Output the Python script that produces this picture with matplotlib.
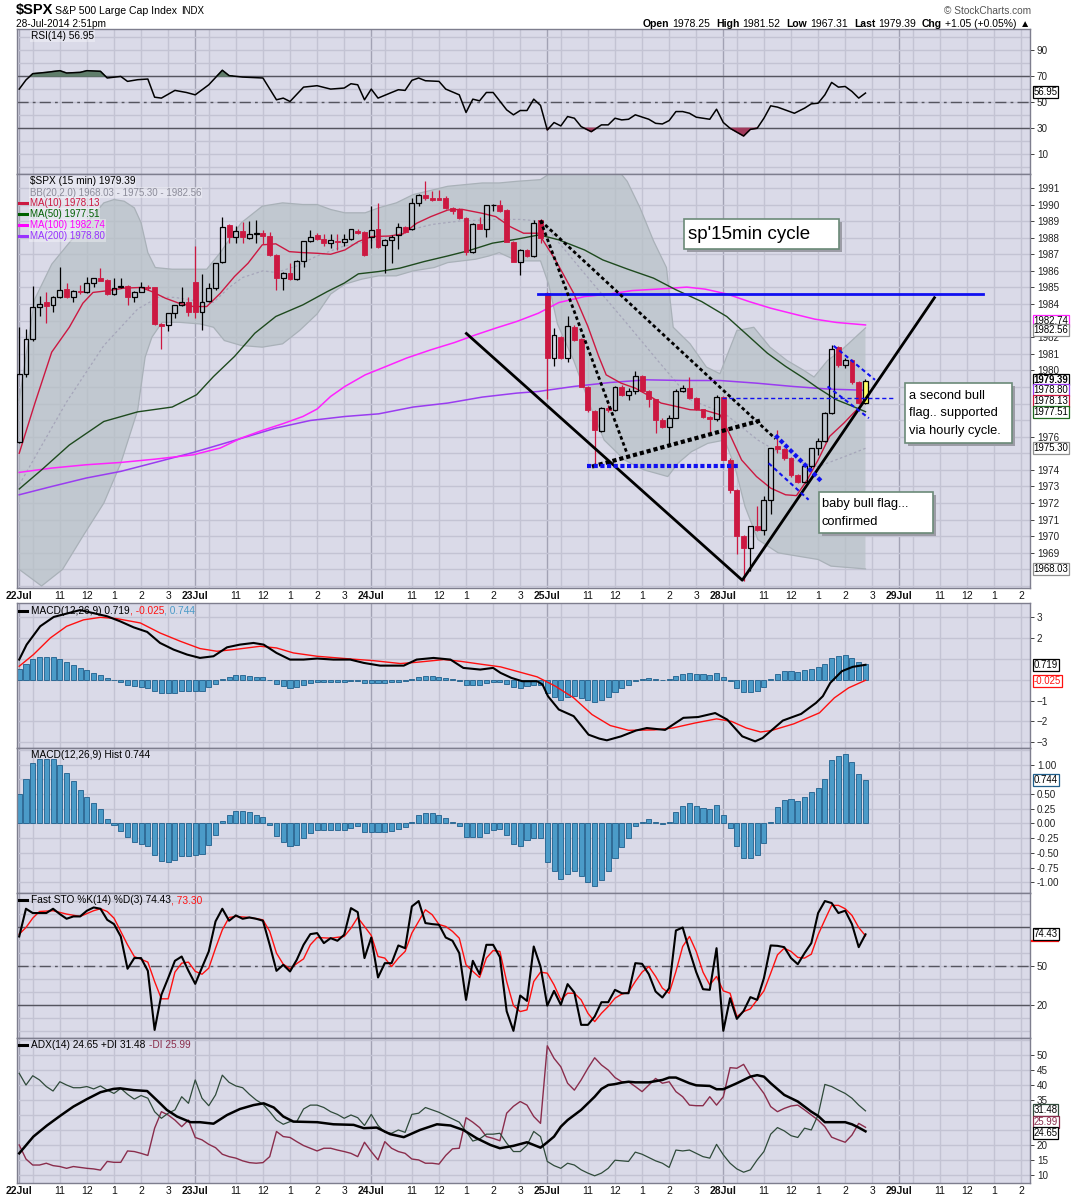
import numpy as np
import matplotlib
matplotlib.use("Agg")
import matplotlib.pyplot as plt
from matplotlib.patches import Rectangle
from matplotlib.lines import Line2D

plt.rcParams['font.family'] = ['Liberation Sans', 'DejaVu Sans']

W, H = 1075, 1200

# ---------------- data (bar 0 = 22 Jul 9:30, 26 bars of 15 min per day) ----------------
day_names = ["22Jul", "23Jul", "24Jul", "25Jul", "28Jul", "29Jul"]
hour_names = ["11", "12", "1", "2", "3"]

opens = [1975.7, 1979.8, 1981.9, 1983.8, 1984.1, 1983.95, 1984.4, 1984.9, 1984.4, 1984.8,
         1984.7, 1985.25, 1985.6, 1985.45, 1984.6, 1985.0, 1985.1, 1984.45, 1984.75, 1985.05,
         1985.0, 1982.8, 1982.75, 1983.45, 1983.95, 1984.1, 1985.35, 1983.55, 1984.2, 1984.95,
         1986.55, 1988.75, 1988.05, 1988.4, 1988.0, 1988.2, 1988.3, 1988.1, 1986.95, 1985.6,
         1985.9, 1985.5, 1986.6, 1987.8, 1988.15, 1987.95, 1987.65, 1987.8, 1987.75, 1987.95,
         1988.4, 1988.35, 1988.05, 1988.5, 1987.55, 1987.85, 1988.15, 1988.65, 1988.5, 1990.1,
         1990.6, 1990.4, 1990.4, 1990.4, 1989.8, 1989.7, 1989.2, 1987.15, 1988.85, 1988.55,
         1989.95, 1990.0, 1989.65, 1987.75, 1986.55, 1987.25, 1986.9, 1989.05, 1984.65, 1980.75,
         1982.0, 1980.75, 1982.6, 1981.9, 1979.0, 1977.55, 1976.35, 1977.75, 1977.6, 1979.0,
         1978.5, 1978.75, 1979.65, 1978.75, 1978.25, 1977.0, 1976.6, 1977.15, 1978.75, 1978.95,
         1978.35, 1977.65, 1977.2, 1977.05, 1978.4, 1974.6, 1972.8, 1970.0, 1969.3, 1970.6,
         1970.35, 1972.2, 1975.45, 1975.25, 1974.7, 1973.7, 1973.3, 1974.25, 1975.3, 1975.75,
         1977.45, 1981.4, 1980.3, 1980.65, 1979.3, 1978.05]
highs = [1982.6, 1982.5, 1985.1, 1984.5, 1984.75, 1984.5, 1986.25, 1985.25, 1984.85, 1985.15,
         1985.65, 1985.6, 1986.2, 1985.5, 1985.55, 1985.6, 1985.15, 1984.8, 1985.35, 1985.15,
         1985.05, 1982.85, 1983.45, 1983.95, 1985.05, 1984.45, 1987.5, 1985.8, 1985.25, 1986.45,
         1989.25, 1988.8, 1988.7, 1988.95, 1989.0, 1989.05, 1988.45, 1988.35, 1987.0, 1985.95,
         1986.45, 1986.65, 1987.8, 1988.45, 1988.3, 1988.25, 1988.2, 1988.25, 1988.2, 1988.55,
         1988.5, 1988.4, 1989.9, 1990.1, 1987.9, 1988.15, 1988.9, 1988.7, 1990.4, 1990.65,
         1991.4, 1990.8, 1990.9, 1990.5, 1989.85, 1989.8, 1989.25, 1988.9, 1989.25, 1990.0,
         1990.05, 1990.25, 1989.7, 1987.8, 1987.3, 1987.3, 1989.05, 1989.1, 1984.7, 1982.55,
         1982.05, 1983.25, 1982.75, 1981.95, 1979.05, 1977.6, 1977.8, 1977.9, 1979.05, 1979.1,
         1978.95, 1979.95, 1979.7, 1978.8, 1978.3, 1977.1, 1977.3, 1978.85, 1979.1, 1979.6,
         1978.4, 1977.7, 1977.25, 1978.5, 1978.45, 1974.7, 1972.85, 1970.05, 1970.6, 1971.8,
         1972.4, 1975.35, 1976.4, 1975.3, 1974.75, 1973.75, 1974.3, 1975.35, 1975.95, 1977.5,
         1981.52, 1981.5, 1980.75, 1980.7, 1979.35, 1979.5]
lows = [1975.6, 1979.6, 1981.8, 1983.3, 1982.85, 1983.5, 1984.35, 1984.35, 1984.1, 1984.6,
        1984.65, 1985.05, 1985.4, 1984.55, 1984.55, 1984.95, 1983.95, 1984.1, 1984.7, 1984.85,
        1982.75, 1981.3, 1982.35, 1983.15, 1983.9, 1983.25, 1983.15, 1982.45, 1984.15, 1984.85,
        1986.5, 1987.65, 1987.65, 1987.65, 1987.95, 1987.7, 1987.6, 1986.9, 1984.85, 1984.85,
        1985.45, 1985.45, 1986.25, 1987.75, 1987.85, 1987.5, 1987.35, 1987.25, 1987.5, 1987.85,
        1988.25, 1986.9, 1987.35, 1987.4, 1985.85, 1986.45, 1987.3, 1988.3, 1988.45, 1989.9,
        1990.25, 1990.2, 1990.25, 1989.75, 1989.4, 1989.15, 1986.95, 1987.1, 1988.5, 1988.05,
        1989.6, 1989.55, 1987.75, 1986.55, 1985.75, 1986.85, 1986.85, 1987.7, 1978.3, 1980.25,
        1980.7, 1980.5, 1981.8, 1979.0, 1977.5, 1974.2, 1976.3, 1977.5, 1977.55, 1978.45,
        1978.2, 1978.6, 1978.7, 1977.8, 1976.2, 1976.5, 1975.5, 1977.1, 1978.7, 1978.3,
        1977.6, 1977.1, 1976.3, 1976.95, 1974.6, 1972.6, 1968.9, 1967.31, 1967.9, 1970.3,
        1970.1, 1971.35, 1975.0, 1974.6, 1973.6, 1973.2, 1973.2, 1974.1, 1974.9, 1975.7,
        1977.4, 1980.2, 1980.15, 1979.2, 1978.0, 1977.95]
closes = [1979.8, 1981.9, 1983.8, 1984.0, 1983.9, 1984.4, 1984.85, 1984.4, 1984.8, 1984.7,
          1985.25, 1985.55, 1985.4, 1984.6, 1984.95, 1985.1, 1984.45, 1984.75, 1985.0, 1984.95,
          1982.8, 1982.7, 1983.45, 1983.95, 1984.1, 1983.5, 1983.55, 1984.1, 1984.95, 1986.45,
          1988.65, 1988.05, 1988.4, 1988.05, 1988.25, 1988.3, 1988.1, 1986.95, 1985.6, 1985.9,
          1985.5, 1986.6, 1987.8, 1988.05, 1987.95, 1987.65, 1987.85, 1987.75, 1987.95, 1988.5,
          1988.3, 1986.95, 1988.45, 1987.45, 1987.85, 1988.05, 1988.65, 1988.35, 1990.1, 1990.6,
          1990.4, 1990.3, 1990.3, 1989.8, 1989.6, 1989.2, 1987.15, 1988.85, 1988.55, 1989.95,
          1990.0, 1989.6, 1987.75, 1986.55, 1987.25, 1986.9, 1988.9, 1988.0, 1980.75, 1982.15,
          1980.75, 1982.65, 1981.85, 1979.0, 1977.6, 1976.4, 1977.75, 1977.6, 1979.0, 1978.5,
          1978.75, 1979.65, 1978.75, 1978.25, 1977.0, 1976.6, 1977.15, 1978.75, 1978.95, 1978.35,
          1977.65, 1977.2, 1977.05, 1978.4, 1974.6, 1972.8, 1970.0, 1969.3, 1970.6, 1970.35,
          1972.2, 1975.3, 1975.25, 1974.7, 1973.7, 1973.3, 1974.25, 1975.3, 1975.75, 1977.45,
          1981.3, 1980.3, 1980.65, 1979.3, 1978.05, 1979.39]

bbu_x = [0, 2.3, 4.8, 7.4, 10.4, 12.5, 14, 15.5, 17, 18, 19, 20.1, 22.6, 25.7, 27.7, 29.7, 32.8,
         35.9, 38.9, 41.9, 44, 46, 48.1, 51.1, 53.1, 55.7, 58.2, 61.3, 63.3, 68.4, 70.9, 73.5, 77,
         80, 84, 88, 89.8, 91.7, 93.7, 95.6, 96.6, 99.1, 101.5, 103.5, 106, 108.5, 110.9, 113.4,
         115.9, 117.4, 119.4, 121.4, 125]
bbu_y = [1978.2, 1984.3, 1986.4, 1987.7, 1989.1, 1990.1, 1990.3, 1990.2, 1989.8, 1988.9, 1987.1,
         1986.2, 1986.1, 1986.1, 1986.1, 1987.1, 1988.9, 1989.9, 1990.1, 1990.0, 1990.0, 1989.7,
         1989.5, 1989.5, 1989.8, 1990.1, 1990.6, 1990.9, 1991.1, 1991.3, 1991.3, 1991.4, 1991.5,
         1992.3, 1992.6, 1992.3, 1991.4, 1989.8, 1987.8, 1986.2, 1982.6, 1981.6, 1980.2, 1979.8,
         1982.4, 1982.6, 1981.4, 1980.6, 1980.0, 1979.6, 1980.6, 1981.2, 1982.56]
bbl_x = [0, 3.3, 6.4, 9.4, 12.5, 15, 17.5, 18.6, 19.6, 21.1, 23.6, 26.7, 28.7, 30.3, 32.8, 35.9,
         38.9, 41.4, 44, 46, 48.1, 50.6, 53.1, 55.7, 58.2, 61.3, 63.3, 67.4, 69.4, 70.9, 72.5,
         73.5, 77, 78.2, 79.5, 81.9, 84.4, 86.4, 89.4, 92.3, 95.8, 97.3, 99.3, 101.7, 104.2,
         105.7, 107.2, 109.1, 112.1, 115, 118, 119.9, 125]
bbl_y = [1968.0, 1967.0, 1968.0, 1970.0, 1972.0, 1974.4, 1977.6, 1980.8, 1982.0, 1982.9, 1982.9,
         1982.8, 1982.6, 1981.8, 1981.5, 1981.4, 1981.6, 1982.4, 1983.4, 1984.6, 1985.2, 1985.5,
         1985.7, 1985.7, 1986.0, 1986.2, 1986.5, 1986.7, 1986.9, 1987.1, 1986.8, 1986.6, 1986.6,
         1985.2, 1982.8, 1980.6, 1977.8, 1975.8, 1974.6, 1974.0, 1973.6, 1974.4, 1975.1, 1975.6,
         1975.8, 1974.2, 1971.8, 1969.8, 1969.0, 1968.8, 1968.6, 1968.2, 1968.03]
bbm_x = [0, 7, 12.5, 17.5, 20.5, 23, 26, 28.7, 31, 33, 36, 38, 41, 44, 46, 48, 53, 58, 61, 65, 70,
         74, 77, 79.5, 84.4, 89.4, 94.3, 99.3, 104.2, 109.1, 114.1, 118, 121.9, 125]
bbm_y = [1973.1, 1978.1, 1981.5, 1983.7, 1984.4, 1984.4, 1984.2, 1984.1, 1985.0, 1985.6, 1986.0,
         1985.9, 1986.3, 1986.9, 1987.2, 1987.5, 1987.9, 1988.5, 1988.8, 1989.0, 1989.1, 1989.1,
         1989.0, 1987.8, 1985.4, 1983.0, 1980.6, 1978.2, 1977.4, 1975.8, 1974.6, 1974.2, 1974.8,
         1975.3]

ma10_x = [0, 2.3, 4.8, 7.4, 9.4, 10.9, 13, 15.5, 18, 19.6, 21.6, 23.6, 25.7, 27.7, 29.7, 31.8,
          33.8, 35.9, 37.9, 39.9, 41.9, 44, 46, 48.1, 50.1, 52.1, 54.7, 56.7, 58.7, 60.8, 63.3,
          65.4, 68.4, 70.4, 72.5, 74.5, 76.7, 79.2, 81.9, 84, 85.6, 86.7, 88.9, 91, 93.2, 94.8, 97,
          99.1, 101.3, 103.5, 105.1, 106.7, 108.9, 111, 113.2, 114.8, 116.4, 118, 119.7, 121.8,
          123.4, 125]
ma10_y = [1975.0, 1978.0, 1981.1, 1982.6, 1984.05, 1984.7, 1984.8, 1984.96, 1985.0, 1984.75,
          1984.35, 1984.05, 1983.85, 1983.85, 1984.65, 1985.66, 1986.46, 1987.57, 1987.63,
          1987.16, 1987.1, 1987.06, 1987.0, 1987.26, 1987.77, 1988.07, 1988.1, 1988.23, 1988.87,
          1989.27, 1989.67, 1989.71, 1989.47, 1989.27, 1988.67, 1988.27, 1988.27, 1986.66,
          1984.65, 1982.65, 1980.84, 1979.73, 1979.23, 1978.93, 1978.43, 1978.03, 1977.83,
          1977.63, 1977.59, 1977.33, 1976.02, 1974.6, 1973.6, 1972.9, 1972.5, 1972.45, 1973.4,
          1974.6, 1976.02, 1976.82, 1977.5, 1978.13]
ma50_x = [0, 3.3, 7.4, 12.5, 17.5, 22.6, 26.2, 28.7, 31.8, 34.8, 37.9, 41.9, 45.5, 48, 50.1, 53.1,
          56.2, 59.8, 63.3, 66.4, 69.9, 73.5, 76.8, 79.7, 83.5, 86.2, 89.9, 93.7, 97, 100.8, 104.5,
          107.8, 110.5, 113.2, 115.9, 118, 120.7, 122.9, 125]
ma50_y = [1972.85, 1974.0, 1975.5, 1976.92, 1977.5, 1977.79, 1978.53, 1979.63, 1980.84, 1982.24,
          1983.25, 1983.95, 1984.75, 1985.26, 1985.82, 1985.96, 1986.16, 1986.56, 1986.9, 1987.22,
          1987.67, 1987.91, 1988.17, 1987.87, 1987.26, 1986.66, 1986.1, 1985.56, 1984.86, 1984.15,
          1983.25, 1982.04, 1981.04, 1980.24, 1979.53, 1978.93, 1978.23, 1977.87, 1977.51]
ma100_x = [0, 4.8, 9.9, 15, 20.1, 25.7, 29.7, 32.8, 35.9, 38.9, 41.9, 44, 46, 48.1, 51.1, 54.2,
           57.2, 60.8, 64.3, 67.4, 70.4, 73.5, 76.7, 79.7, 83.5, 87.3, 90.5, 94.3, 98.6, 101.3,
           104.5, 107.8, 111, 114.3, 117.5, 120.7, 125]
ma100_y = [1973.85, 1974.11, 1974.31, 1974.45, 1974.65, 1974.91, 1975.32, 1975.92, 1976.38,
           1976.78, 1977.22, 1977.67, 1978.43, 1979.03, 1979.73, 1980.24, 1980.74, 1981.24,
           1981.68, 1982.14, 1982.55, 1982.95, 1983.45, 1984.09, 1984.45, 1984.61, 1984.81,
           1984.9, 1985.02, 1984.9, 1984.61, 1984.15, 1983.75, 1983.41, 1983.09, 1982.89, 1982.74]
ma200_x = [0, 4.8, 9.9, 15, 20.1, 25.7, 31.8, 37.9, 43, 48.1, 53.1, 58.2, 63.3, 68.4, 73.5, 76.7,
           81.9, 87.3, 92.7, 98.1, 103.5, 108.9, 114.3, 119.7, 125]
ma200_y = [1972.5, 1973.0, 1973.51, 1973.91, 1974.45, 1975.05, 1975.78, 1976.52, 1976.98, 1977.22,
           1977.38, 1977.79, 1978.03, 1978.39, 1978.63, 1978.73, 1979.03, 1979.27, 1979.43,
           1979.39, 1979.39, 1979.23, 1979.03, 1978.87, 1978.80]

rsi_x = [0, 1, 2, 4, 6, 7, 9, 10, 12, 13, 15, 16, 17.5, 19, 20, 21, 23, 24.7, 26, 28, 30, 31, 33,
         36, 38, 39, 40, 42, 44, 46, 48, 49, 50, 51, 52, 53, 55, 56, 57, 58, 59, 60, 62, 63, 65,
         66, 67, 68, 69, 70, 72, 73, 74, 75, 76, 77, 78, 79, 80, 81, 82, 83, 84.5, 86, 87, 88, 89,
         90, 91, 93, 94, 95, 96, 97, 98, 99, 100, 102, 103, 104, 105, 107, 108, 109, 110, 111,
         112, 114.5, 116, 117, 118, 119, 120, 121, 122, 123, 124, 125]
rsi_y = [60, 67, 71.8, 72.8, 74.1, 72.3, 72.8, 74.1, 73.6, 68.5, 69.7, 65.9, 67.2, 67.7, 53.8,
         53.1, 59, 57.4, 55.6, 63.3, 74.4, 70.3, 69.2, 68.5, 51.8, 53.1, 50.5, 61.5, 62.6, 60, 60.8,
         64.1, 63.3, 51.8, 60, 53.1, 57.4, 59.5, 59, 66.7, 68.5, 66.4, 65.9, 60, 55.6, 42.1, 52.3,
         51, 57.4, 57.4, 44.1, 40.3, 43.6, 43.6, 52.3, 47.5, 28.7, 34.4, 31.8, 39, 37.7, 31.3,
         27.4, 32.6, 32.6, 37.7, 36.4, 36.9, 40.3, 36.9, 33.8, 33.3, 35.9, 42.8, 42.8, 41.5, 38.5,
         36.9, 44.6, 34.4, 30, 24.1, 29.2, 30, 37.7, 47.2, 46.2, 41.5, 45.4, 48.7, 49.2, 55.6,
         65.1, 61.5, 62, 58.2, 53.1, 56.95]

macd_x = [0, 1.1, 3.1, 5.1, 9, 13, 14.9, 16.9, 18.9, 20.8, 22.8, 24.8, 26.7, 28.7, 30.7, 32.6,
          34.6, 36.1, 38, 40, 42, 44, 46.4, 48.9, 50.9, 53.3, 56.8, 58.7, 61.2, 63.7, 65.6, 68.1,
          70, 71.1, 72.7, 74.3, 76.5, 77.3, 78.1, 79.7, 81.9, 84.1, 85.7, 86.8, 88.9, 91.1, 92.7,
          95.4, 98.1, 100.3, 102.8, 104.6, 106.8, 108.7, 109.8, 112.8, 115.5, 117.7, 118.7,
          119.8, 121.5, 123.1, 125]
macd_y = [0.97, 1.69, 2.57, 3.02, 3.35, 3.05, 2.81, 2.52, 2.30, 1.77, 1.45, 1.21, 1.05, 1.13,
          1.56, 1.69, 1.77, 1.69, 1.29, 0.97, 0.97, 1.02, 0.97, 0.97, 0.81, 0.68, 0.68, 0.97, 1.05,
          0.97, 0.57, 0.49, 0.57, 0.33, 0.09, -0.07, -0.07, -0.23, -0.79, -1.43, -1.75, -2.64,
          -2.83, -2.91, -2.72, -2.44, -2.32, -2.41, -1.83, -1.79, -1.60, -1.92, -2.72, -2.96,
          -2.80, -1.96, -1.64, -1.11, -0.79, -0.15, 0.41, 0.62, 0.719]
sig_x = [0, 2.1, 4.6, 7, 9.5, 12, 14.4, 17.9, 20.8, 23.8, 26.7, 29.2, 31.7, 35.6, 38, 40.5, 44,
         48.9, 52.3, 56.3, 58.7, 62.7, 65.1, 68.6, 71.1, 73.8, 76.5, 79.2, 81.9, 84.6, 87.3, 90,
         93.8, 96.5, 99.8, 103, 105.2, 107.4, 109.5, 111.1, 114.4, 118.2, 120.4, 122.5, 125]
sig_y = [0.65, 1.21, 2.01, 2.57, 2.88, 3.0, 2.94, 2.73, 2.25, 1.85, 1.50, 1.37, 1.45, 1.61, 1.53,
         1.29, 1.13, 1.0, 0.92, 0.78, 0.84, 0.97, 0.89, 0.73, 0.62, 0.38, 0.14, -0.31, -0.87,
         -1.67, -2.20, -2.43, -2.41, -2.32, -2.08, -1.88, -2.0, -2.32, -2.51, -2.44, -2.12, -1.59,
         -0.87, -0.39, -0.025]
hist = [0.50, 0.76, 1.02, 1.10, 1.10, 1.09, 0.99, 0.86, 0.72, 0.56, 0.45, 0.34, 0.25, 0.07, -0.03,
        -0.12, -0.23, -0.32, -0.35, -0.38, -0.53, -0.63, -0.65, -0.62, -0.55, -0.55, -0.53, -0.52,
        -0.36, -0.19, 0.05, 0.15, 0.21, 0.21, 0.19, 0.15, 0.11, -0.02, -0.21, -0.32, -0.38, -0.36,
        -0.25, -0.17, -0.11, -0.11, -0.11, -0.11, -0.11, -0.07, -0.05, -0.15, -0.15, -0.15, -0.15,
        -0.13, -0.09, -0.06, 0.03, 0.14, 0.17, 0.17, 0.15, 0.10, 0.02, -0.05, -0.23, -0.23, -0.23,
        -0.17, -0.11, -0.09, -0.20, -0.35, -0.39, -0.28, -0.25, -0.25, -0.66, -0.81, -0.95, -0.85,
        -0.80, -0.89, -0.99, -1.06, -0.96, -0.81, -0.58, -0.40, -0.25, -0.05, 0.03, 0.07, 0.03,
        -0.01, 0.03, 0.19, 0.29, 0.34, 0.30, 0.26, 0.24, 0.32, 0.14, -0.08, -0.38, -0.58, -0.58,
        -0.53, -0.34, 0.03, 0.28, 0.40, 0.42, 0.38, 0.45, 0.54, 0.60, 0.75, 1.07, 1.15, 1.18, 1.05,
        0.84, 0.744]

sto_k = [72.8, 94.1, 90.8, 90.8, 90.8, 94.1, 90.0, 86.4, 88.2, 88.2,
         92.6, 95.1, 94.1, 85.6, 82.3, 72.8, 48.0, 56.2, 56.2, 46.4,
         1.0, 28.0, 40.8, 54.1, 57.4, 46.4, 36.4, 49.0, 61.3, 84.4,
         94.1, 84.9, 89.0, 86.4, 87.4, 86.4, 84.9, 66.4, 46.4, 51.0,
         45.9, 54.9, 66.4, 74.6, 75.4, 67.7, 71.5, 69.5, 74.1, 94.6,
         91.5, 56.2, 72.0, 41.3, 52.3, 52.3, 65.9, 63.8, 95.9, 100.0,
         83.1, 82.3, 81.8, 72.0, 69.5, 60.0, 24.1, 54.1, 43.8, 66.4,
         66.4, 57.0, 15.4, 0.3, 27.4, 23.3, 65.1, 49.7, 19.7, 31.0,
         20.3, 36.2, 29.7, 4.9, 4.9, 11.3, 22.3, 22.3, 31.8, 29.2,
         29.2, 52.3, 51.8, 43.8, 30.5, 25.9, 33.1, 77.4, 79.7, 61.8,
         45.4, 32.3, 31.8, 63.8, 0.3, 25.4, 9.5, 15.6, 26.2, 24.1,
         40.8, 65.9, 65.6, 64.6, 56.2, 51.5, 60.0, 67.7, 90.8, 100.0,
         98.5, 90.8, 92.6, 82.3, 64.6, 74.43]
sto_d_x = [0, 1, 2, 3, 5, 7, 9, 11, 12, 13, 14, 15, 16, 17, 19, 20, 21, 22, 23, 24, 25, 26, 27,
           28, 29, 30, 31, 32, 34, 36, 37, 38, 39, 40, 41, 42, 43, 44, 46, 48, 49, 50, 51, 52, 53,
           54, 55, 56, 57, 58, 59, 60, 61, 62, 63, 64, 65, 66, 67, 68, 69, 70, 71] + list(range(72, 126))
sto_d_y = [74.6, 79.7, 86.9, 92, 92.6, 90, 88.2, 92.6, 94.1, 92, 86.9, 76.7, 66.4, 57.4, 53.1,
           38.2, 24.9, 24.9, 45.4, 52.3, 53.1, 46, 43.8, 48.5, 63.8, 77.9, 87.4, 88.2, 87.4, 85.6,
           76.7, 60, 51.5, 48, 52, 55.6, 66.4, 72, 71.5, 72.8, 79.2, 87.4, 80.5, 73.6, 57.4, 56.2,
           49.7, 56.2, 61.3, 75.4, 84.4, 93.3, 89.5, 82, 80.5, 76.7, 71.5, 51, 46, 41.3, 56.2, 62,
           61.3,
           38.2, 19.7, 15.1, 16.4, 38.2, 45.4, 44.6, 35.6, 24.1, 29.2, 29.2, 24.1, 13.8, 7.4, 13.8,
           19, 25.4, 28.5, 30, 38.2, 45.4, 49.7, 42.1, 33.1, 29.2, 45.9, 65.1, 72.8, 61.3, 45.4,
           35.6, 42.1, 31, 29.2, 11.3, 15.1, 17.2, 24.1, 31, 44.6, 58.7, 63.8, 61.3, 56.7, 56.2,
           59.2, 74.1, 85.6, 96.7, 96.7, 94.1, 89, 79.7, 73.3]

adx_x = [0, 2.1, 4.1, 6.1, 8, 10, 12, 13.9, 14.9, 16.9, 18.9, 20.3, 21.8, 23.3, 25.3, 26.7, 28.7,
         30.7, 32.6, 34.6, 36.1, 37.6, 39, 40.5, 44, 46.4, 49.4, 50.9, 52.8, 54.8, 56.8, 59.2,
         61.7, 63.7, 65.6, 67.6, 69.6, 71, 73, 75, 77, 78, 79, 80, 81, 82, 83, 84, 85, 86, 87, 88,
         89, 90, 91, 93, 95, 96, 97, 99, 100, 102, 103, 104, 106, 108, 109, 110, 111, 113, 115,
         117, 118, 119, 122, 123, 124, 125]
adx_y = [17.3, 22.9, 26.6, 29.9, 32.9, 35.4, 37.7, 38.8, 39, 38.4, 38.1, 35.1, 31.8, 29.6, 27.7,
         27.7, 27.2, 30.1, 32.1, 33.4, 34, 32.6, 29.6, 27.9, 27.7, 27, 26.8, 25.7, 25.9, 23.7,
         22.7, 25.1, 27, 26.6, 25.1, 22.3, 20.1, 19, 19.8, 21, 19.2, 21, 22.9, 26.2, 28.4, 30.1,
         31.8, 34, 36.2, 38.8, 40.1, 40.4, 40.9, 41.2, 41, 41, 41.8, 42.6, 42.6, 40.7, 40, 39.8,
         38.7, 38.7, 40.7, 42.9, 43.4, 42.9, 40.7, 36.8, 34.6, 31.2, 29.8, 27.7, 27.7, 27, 25.9,
         24.65]
plus_di = [44, 40.1, 43.2, 41.8, 39.6, 38.1, 41.2, 40.1, 39.2, 39.2,
           39.6, 38.8, 39.8, 38.4, 37.3, 39, 37, 35.4, 36.6, 35.7,
           31.2, 29, 30.7, 31.8, 36.2, 34, 41.8, 35.7, 33.2, 36.8,
           43.4, 41, 39.8, 39.2, 37, 35.1, 33.7, 31.2, 28.4, 27,
           27.9, 27.9, 32.1, 33.4, 33.4, 32.6, 31.2, 30.3, 29, 30.1,
           29.2, 26.6, 30.3, 26.6, 24.3, 24, 25.1, 24.3, 30.3, 30.7,
           32.6, 31.8, 31, 29.9, 28.8, 27.7, 24.6, 21.4, 22.1, 23.7,
           23.7, 24, 20.7, 17.9, 17.9, 20, 24.6, 22.9, 14.6, 13.2,
           12.3, 14, 13.4, 11.8, 10.7, 9.8, 10.7, 12.3, 15, 14.8,
           14.6, 17.7, 17, 15.9, 14.8, 14, 12.6, 18.4, 18.1, 18.4,
           17.3, 16.2, 15.7, 20.3, 16.8, 14, 12.1, 11, 11.8, 15.1,
           17.9, 23.7, 25.9, 24.8, 23.2, 22.6, 25.7, 25.1, 30.1, 40.3,
           39.6, 38.4, 37.3, 35.7, 33.4, 31.48]
minus_di = [20.1, 15.4, 13.4, 13.4, 14, 13.2, 12.9, 12.3, 12.9, 12.6,
            12.3, 12.1, 11.7, 14.6, 14.3, 14.3, 18.1, 17.9, 17.3, 16.6,
            25.7, 31.2, 30.1, 28.4, 26.2, 28.4, 22.6, 21.8, 20.3, 19.2,
            17, 16.2, 15.7, 14.8, 14.2, 14, 14.2, 16.2, 24.6, 22.9,
            22.6, 21.2, 19.9, 19, 18.1, 19, 19, 18.4, 17.9, 17.3,
            16.2, 21, 17.9, 15.1, 21.2, 19, 17.9, 17.3, 15.4, 15.1,
            14, 14, 13.7, 16.6, 18.8, 19, 29.2, 27.7, 25.9, 22.9,
            22.3, 21.5, 30.7, 33, 34.6, 33.4, 29.6, 27.3, 53.2, 49,
            46.2, 40.7, 38.4, 41.8, 45.7, 49.2, 46.8, 45.1, 42.6, 41.2,
            41.2, 39.6, 37.9, 40.1, 42.3, 40.7, 41.2, 37.9, 36.2, 33.4,
            33.2, 33.2, 36.2, 33.4, 36.2, 45.9, 45.7, 47, 43.2, 40.3,
            37.3, 32.9, 31.2, 32.3, 33.1, 33.4, 31.8, 30.1, 28.4, 26.2,
            22.7, 21.8, 21, 23.4, 27.3, 25.99]

# ---------------- styling ----------------
BG = "#dadae8"
GRID = "#c3c3d3"
DAYGRID = "#a2a2b4"
SPINE = "#7e7e8e"
RED = "#cc1841"
BLUE = "#4b9bc8"
BLUE_EDGE = "#1f5f8c"
XMAX = 149.3

fig = plt.figure(figsize=(W / 100, H / 100), dpi=100)
fig.patch.set_facecolor("white")
renderer = fig.canvas.get_renderer()


def panel(top, bottom, ylim, grid_vals):
    ax = fig.add_axes([16.5 / W, 1 - bottom / H, (1030 - 16.5) / W, (bottom - top) / H])
    ax.set_facecolor(BG)
    ax.set_xlim(-0.4, XMAX)
    ax.set_ylim(*ylim)
    for s in ax.spines.values():
        s.set_color(SPINE)
        s.set_linewidth(1)
    ax.yaxis.tick_right()
    ax.tick_params(axis="y", length=3, width=0.6, pad=2, labelsize=7.1, colors="#222222")
    ax.tick_params(axis="x", length=0, labelbottom=False)
    for d in range(6):
        for off in (0, 2, 6, 10, 14, 18, 22):
            xv = d * 26 + off
            if xv < XMAX:
                ax.axvline(xv, color=DAYGRID if off == 0 else GRID, lw=1, zorder=0.5)
    for gv in grid_vals:
        ax.axhline(gv, color=GRID, lw=1, zorder=0.5)
    return ax


def xlabels(ax):
    pos, lab = [], []
    for d, name in enumerate(day_names):
        pos.append(d * 26)
        lab.append(name)
        for off, hname in zip((6, 10, 14, 18, 22), hour_names):
            if d * 26 + off < XMAX - 1:
                pos.append(d * 26 + off)
                lab.append(hname)
    ax.set_xticks(pos)
    ax.set_xticklabels(lab)
    ax.tick_params(axis="x", labelbottom=True, labelsize=7.5, pad=2, length=0, colors="#111111")
    for t in ax.get_xticklabels():
        if "Jul" in t.get_text():
            t.set_fontweight("bold")


def tag(ax, y, text, edge, tcolor="black", weight="normal", size=6.9):
    ax.annotate(text, xy=(1.0, y), xycoords=ax.get_yaxis_transform(), xytext=(2.5, 0),
                textcoords="offset points", fontsize=size, color=tcolor, fontweight=weight,
                va="center", ha="left", annotation_clip=False, zorder=8,
                bbox=dict(boxstyle="square,pad=0.1", facecolor="white", edgecolor=edge, lw=0.9))


def put_seq(x, y, parts, size, align="left"):
    seq = parts if align == "left" else parts[::-1]
    for s, color, weight, gap in seq:
        if align == "left":
            x += gap
        t = fig.text(x / W, 1 - y / H, s, fontsize=size, color=color, fontweight=weight,
                     ha=align, va="center", zorder=5)
        w = t.get_window_extent(renderer).width
        if align == "left":
            x += w
        else:
            x -= w + gap


def legend_line(x, y, s, color, size=7.0, dash=None):
    if dash:
        fig.add_artist(Line2D([19 / W, 27 / W], [1 - y / H] * 2, color=dash, lw=2.2,
                              transform=fig.transFigure, zorder=5))
    fig.text(x / W, 1 - y / H, s, fontsize=size, color=color, va="center", zorder=5,
             bbox=dict(facecolor="white", alpha=0.35, edgecolor="none", pad=0.6))


def note_box(x0, y0, x1, y1, lines, ys, tx, size, weight="normal"):
    fig.add_artist(Rectangle(((x0 + 3) / W, 1 - (y1 + 3) / H), (x1 - x0) / W, (y1 - y0) / H,
                             transform=fig.transFigure, facecolor="#9c9ca6", edgecolor="none",
                             zorder=10))
    fig.add_artist(Rectangle((x0 / W, 1 - y1 / H), (x1 - x0) / W, (y1 - y0) / H,
                             transform=fig.transFigure, facecolor="white", edgecolor="#6b8a78",
                             lw=1.2, zorder=11))
    for s, ly in zip(lines, ys):
        fig.text(tx / W, 1 - ly / H, s, fontsize=size, fontweight=weight, va="center", zorder=12)


idx = np.arange(len(closes))
o = np.array(opens)
hi = np.array(highs)
lo = np.array(lows)
c = np.array(closes)

# ---------------- RSI ----------------
ax_rsi = panel(29, 174, (-5, 106), range(0, 101, 10))
ax_rsi.axhline(70, color="#55555f", lw=1, zorder=1)
ax_rsi.axhline(30, color="#55555f", lw=1, zorder=1)
ax_rsi.axhline(50, color="#55555f", lw=1, ls=(0, (8, 3, 2, 3)), zorder=1)
rx = np.array(rsi_x)
ry = np.array(rsi_y)
ax_rsi.fill_between(rx, ry, 70, where=ry > 70, interpolate=True, color="#5f7d6a", zorder=2)
ax_rsi.fill_between(rx, ry, 30, where=ry < 30, interpolate=True, color="#a23a5c", zorder=2)
ax_rsi.plot(rx, ry, color="black", lw=1.1, zorder=3)
ax_rsi.set_yticks([10, 30, 50, 70, 90])
tag(ax_rsi, 58.0, "56.95", "black")

# ---------------- price ----------------
ax_p = panel(174, 588, (1966.88, 1991.84), range(1967, 1992))
ax_p.fill(np.concatenate([bbu_x, bbl_x[::-1]]), np.concatenate([bbu_y, bbl_y[::-1]]),
          facecolor="#b7c1c6", alpha=0.7, edgecolor="none", zorder=1)
ax_p.plot(bbu_x, bbu_y, color="#a9b1b8", lw=0.9, zorder=1.2)
ax_p.plot(bbl_x, bbl_y, color="#a9b1b8", lw=0.9, zorder=1.2)
ax_p.plot(bbm_x, bbm_y, color="#a6a6ba", lw=0.9, ls=(0, (2, 2)), zorder=1.2)
ax_p.plot(ma200_x, ma200_y, color="#9a3cf0", lw=1.1, zorder=2)
ax_p.plot(ma100_x, ma100_y, color="#ff22ff", lw=1.1, zorder=2)
ax_p.plot(ma50_x, ma50_y, color="#1e4a1e", lw=1.0, zorder=2)
ax_p.plot(ma10_x, ma10_y, color=RED, lw=1.0, zorder=2)

up = c >= o
body_lo = np.minimum(o, c)
body_hi = np.maximum(o, c)
body_h = np.maximum(body_hi - body_lo, 0.05)
wick_col = np.where(up, "black", RED)
ax_p.vlines(idx, body_hi, hi, colors=wick_col, lw=0.9, zorder=3)
ax_p.vlines(idx, lo, body_lo, colors=wick_col, lw=0.9, zorder=3)
hollow = up.copy()
hollow[-1] = False
ax_p.bar(idx[hollow], body_h[hollow], bottom=body_lo[hollow], width=0.72,
         facecolor="none", edgecolor="black", lw=0.9, zorder=4)
ax_p.bar(idx[~up], body_h[~up], bottom=body_lo[~up], width=0.72,
         facecolor=RED, edgecolor=RED, lw=0.6, zorder=4)
ax_p.bar(idx[-1:], body_h[-1:], bottom=body_lo[-1:], width=0.72,
         facecolor="#ffff66", edgecolor="black", lw=0.9, zorder=4)

# analyst drawings
ax_p.plot([65.9, 106.8, 135.3], [1982.28, 1967.35, 1984.45], color="black", lw=2, zorder=5,
          solid_capstyle="butt")
ax_p.plot([76.7, 142.3], [1984.6, 1984.6], color="#1010f0", lw=2, zorder=5)
ax_p.plot([77.0, 89.8], [1989.03, 1974.97], color="black", lw=2, ls=(0, (1.3, 1.0)), zorder=5)
ax_p.plot([77.0, 111.7], [1989.03, 1975.88], color="black", lw=2, ls=(0, (1.3, 1.0)), zorder=5)
ax_p.plot([84.6, 109.5], [1974.2, 1976.98], color="black", lw=3, ls=(0, (1.0, 0.7)), zorder=5)
ax_p.plot([83.9, 106.5], [1974.25, 1974.25], color="#1010f0", lw=3, ls=(0, (1.0, 0.6)), zorder=5)
ax_p.plot([103.8, 129.1], [1978.33, 1978.33], color="#1010f0", lw=1, ls=(0, (3, 2)), zorder=5)
ax_p.plot([111.7, 118.6], [1976.08, 1973.27], color="#1010f0", lw=3, ls=(0, (1.0, 0.6)), zorder=5)
ax_p.plot([110.7, 116.6], [1974.4, 1972.2], color="#1010f0", lw=1.5, ls=(0, (2, 1.5)), zorder=5)
ax_p.plot([120.3, 126.4], [1981.48, 1979.43], color="#1010f0", lw=1.5, ls=(0, (2, 1.5)), zorder=5)
ax_p.plot([119.4, 125.5], [1979.03, 1977.12], color="#1010f0", lw=1.5, ls=(0, (2, 1.5)), zorder=5)

# tick labels that sit under the value tags are left out
ax_p.set_yticks([1969, 1970, 1971, 1972, 1973, 1974, 1976, 1980, 1981, 1982, 1984, 1985,
                 1986, 1987, 1988, 1989, 1990, 1991])
xlabels(ax_p)
tag(ax_p, 1983.0, "1982.74", "#ff22ff")
tag(ax_p, 1982.45, "1982.56", "#909090")
tag(ax_p, 1979.45, "1979.39", "black", weight="bold")
tag(ax_p, 1978.8, "1978.80", "#9a3cf0")
tag(ax_p, 1978.15, "1978.13", RED)
tag(ax_p, 1977.5, "1977.51", "#1e6a1e")
tag(ax_p, 1975.3, "1975.30", "#909090")
tag(ax_p, 1968.03, "1968.03", "#909090")

# ---------------- MACD ----------------
ax_m = panel(603, 748, (-3.28, 3.69), range(-3, 4))
ax_m.bar(idx, hist, width=0.75, color=BLUE, edgecolor=BLUE_EDGE, lw=0.6, zorder=2)
ax_m.plot(sig_x, sig_y, color="#ff1010", lw=1.0, zorder=3)
ax_m.plot(macd_x, macd_y, color="black", lw=1.5, zorder=4)
ax_m.set_yticks([-3, -2, -1, 2, 3])
tag(ax_m, 0.72, "0.719", "black")
tag(ax_m, -0.07, "-0.025", "#ff1010", tcolor="#ff1010")

# ---------------- MACD histogram ----------------
ax_h = panel(748, 893, (-1.18, 1.28), np.arange(-1.0, 1.26, 0.25))
ax_h.bar(idx, hist, width=0.75, color=BLUE, edgecolor=BLUE_EDGE, lw=0.6, zorder=2)
hist_ticks = [-1.0, -0.75, -0.5, -0.25, 0.0, 0.25, 0.5, 1.0]
ax_h.set_yticks(hist_ticks)
ax_h.set_yticklabels(["%.2f" % v for v in hist_ticks])
tag(ax_h, 0.744, "0.744", BLUE_EDGE)

# ---------------- Fast STO ----------------
ax_s = panel(893, 1038, (-5.2, 106.2), range(0, 101, 10))
ax_s.axhline(80, color="#55555f", lw=1, zorder=1)
ax_s.axhline(20, color="#55555f", lw=1, zorder=1)
ax_s.axhline(50, color="#55555f", lw=1, ls=(0, (8, 3, 2, 3)), zorder=1)
ax_s.plot(sto_d_x, sto_d_y, color="#ff1010", lw=1.0, zorder=3)
ax_s.plot(idx, sto_k, color="black", lw=1.5, zorder=4)
ax_s.set_yticks([20, 50])
# the %D tag (73.30) sits almost fully under the %K tag: only its red lower edge shows
ax_s.plot([1.002, 1.028], [69.6, 69.6], transform=ax_s.get_yaxis_transform(), clip_on=False,
          color="#ff1010", lw=1.6, zorder=7)
tag(ax_s, 74.6, "74.43", "black")

# ---------------- ADX ----------------
ax_a = panel(1038, 1183, (7.4, 55.8), range(10, 56, 5))
ax_a.plot(idx, minus_di, color="#8a2d4c", lw=1.0, zorder=3)
ax_a.plot(idx, plus_di, color="#2f4a3a", lw=0.9, zorder=3)
ax_a.plot(adx_x, adx_y, color="black", lw=1.8, zorder=4)
ax_a.set_yticks([10, 15, 20, 35, 40, 45, 50])
xlabels(ax_a)
tag(ax_a, 31.7, "31.48", "#2f4a3a")
tag(ax_a, 27.9, "25.99", "#8a2d4c", tcolor="#8a2d4c")
tag(ax_a, 24.1, "24.65", "black")

# ---------------- header ----------------
fig.text(16 / W, 1 - 10 / H, "$SPX", fontsize=10.5, fontweight="bold", va="center")
fig.text(55 / W, 1 - 11 / H, "S&P 500 Large Cap Index", fontsize=7.6, va="center")
fig.text(181 / W, 1 - 11 / H, "INDX", fontsize=7.0, va="center")
fig.text(16 / W, 1 - 24 / H, "28-Jul-2014 2:51pm", fontsize=7.3, va="center")
fig.text(1031 / W, 1 - 11 / H, "\u00a9 StockCharts.com", fontsize=7.3, color="#555555",
         va="center", ha="right")
put_seq(1030, 24, [("Open", "black", "bold", 0), ("1978.25", "black", "normal", 3),
                   ("High", "black", "bold", 6), ("1981.52", "black", "normal", 3),
                   ("Low", "black", "bold", 6), ("1967.31", "black", "normal", 3),
                   ("Last", "black", "bold", 6), ("1979.39", "black", "normal", 3),
                   ("Chg", "black", "bold", 6), ("+1.05 (+0.05%)", "black", "normal", 3),
                   ("\u25b2", "black", "normal", 3)], 7.5, align="right")

# ---------------- legends ----------------
legend_line(31, 36, "RSI(14) 56.95", "black", size=7.3)
legend_line(30, 181.5, "$SPX (15 min) 1979.39", "black", size=7.3)
legend_line(30, 192.5, "BB(20,2.0) 1968.03 - 1975.30 - 1982.56", "#8c8c9a")
legend_line(30, 203.3, "MA(10) 1978.13", RED, dash=RED)
legend_line(30, 214.3, "MA(50) 1977.51", "#006000", dash="#006000")
legend_line(30, 225.3, "MA(100) 1982.74", "#ff00ff", dash="#ff00ff")
legend_line(30, 236.3, "MA(200) 1978.80", "#9933ff", dash="#9933ff")

fig.add_artist(Line2D([19 / W, 27 / W], [1 - 610.7 / H] * 2, color="black", lw=2.2,
                      transform=fig.transFigure, zorder=5))
put_seq(31, 610.7, [("MACD(12,26,9) 0.719", "black", "normal", 0),
                    (", -0.025", "#ff1010", "normal", 0),
                    (", 0.744", "#4b9bc8", "normal", 0)], 7.3)
put_seq(31, 755.3, [("MACD(12,26,9) Hist 0.744", "black", "normal", 0)], 7.3)
fig.add_artist(Line2D([19 / W, 27 / W], [1 - 900.3 / H] * 2, color="black", lw=2.2,
                      transform=fig.transFigure, zorder=5))
put_seq(31, 900.3, [("Fast STO %K(14) %D(3) 74.43", "black", "normal", 0),
                    (", 73.30", "#ff1010", "normal", 0)], 7.3)
fig.add_artist(Line2D([19 / W, 27 / W], [1 - 1045.3 / H] * 2, color="black", lw=2.2,
                      transform=fig.transFigure, zorder=5))
put_seq(31, 1045.3, [("ADX(14) 24.65 +DI 31.48", "black", "normal", 0),
                     ("-DI 25.99", "#8a2d4c", "normal", 4)], 7.3)

# ---------------- text notes ----------------
note_box(683.5, 219.3, 839.2, 249.3, ["sp'15min cycle"], [234], 688, 13.5)
note_box(905, 382.7, 1011.7, 442.7, ["a second bull", "flag.. supported", "via hourly cycle."],
         [395.7, 413.3, 431.3], 908.5, 9.3)
note_box(818.7, 491.7, 933, 533.3, ["baby bull flag...", "confirmed"], [504, 522], 822, 9.3)

fig.savefig("out.png", dpi=100, facecolor="white")
